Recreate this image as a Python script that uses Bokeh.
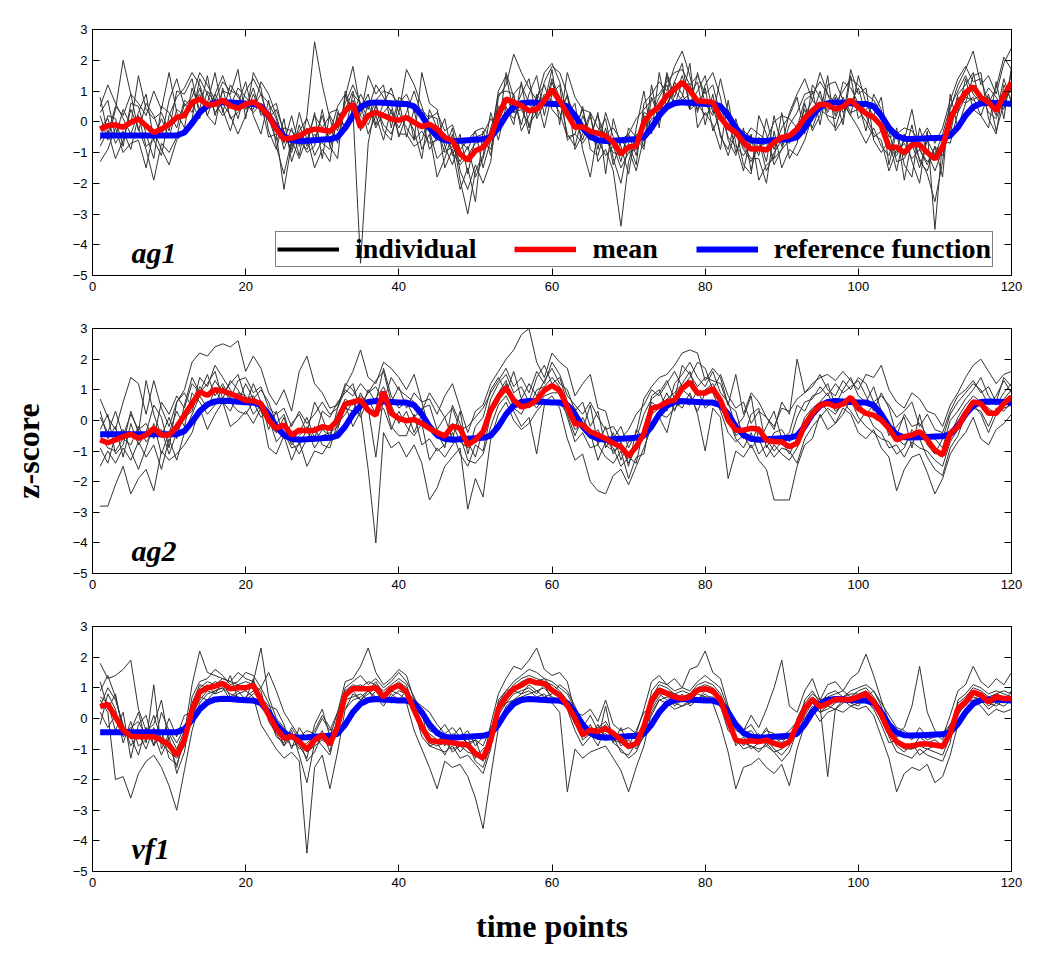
from bokeh.plotting import figure
from bokeh.models import Range1d, FixedTicker, LinearAxis, Legend, LegendItem, Label
from bokeh.layouts import column
from bokeh.embed import file_html
from bokeh.resources import INLINE

# ---------------- data ----------------
time_points = list(range(1, 121))
x_ticks = [0, 20, 40, 60, 80, 100, 120]
y_ticks = [-5, -4, -3, -2, -1, 0, 1, 2, 3]
panel_names = ["ag1", "ag2", "vf1"]

reference_function = [
    -0.45, -0.45, -0.45, -0.45, -0.45, -0.45, -0.45, -0.45, -0.45, -0.45,
    -0.45, -0.35, -0.05, 0.30, 0.52, 0.62, 0.64, 0.63, 0.61, 0.59,
    0.58, 0.50, 0.20, -0.20, -0.48, -0.60, -0.63, -0.62, -0.60, -0.58,
    -0.57, -0.50, -0.20, 0.20, 0.48, 0.60, 0.63, 0.62, 0.60, 0.58,
    0.58, 0.50, 0.20, -0.20, -0.48, -0.60, -0.63, -0.62, -0.60, -0.58,
    -0.57, -0.50, -0.20, 0.20, 0.48, 0.60, 0.63, 0.62, 0.60, 0.58,
    0.58, 0.50, 0.20, -0.20, -0.48, -0.60, -0.63, -0.62, -0.60, -0.58,
    -0.57, -0.50, -0.20, 0.20, 0.48, 0.60, 0.63, 0.62, 0.60, 0.58,
    0.58, 0.50, 0.20, -0.20, -0.48, -0.60, -0.63, -0.62, -0.60, -0.58,
    -0.57, -0.50, -0.20, 0.20, 0.48, 0.60, 0.63, 0.62, 0.60, 0.58,
    0.58, 0.50, 0.20, -0.20, -0.46, -0.55, -0.56, -0.55, -0.54, -0.53,
    -0.52, -0.45, -0.18, 0.20, 0.48, 0.60, 0.62, 0.61, 0.60, 0.58,
]

ag1_mean = [
    -0.24, -0.13, -0.10, -0.18, -0.02, 0.09, -0.13, -0.35, -0.24, -0.08,
    0.14, 0.20, 0.63, 0.74, 0.55, 0.57, 0.70, 0.52, 0.44, 0.57,
    0.65, 0.47, 0.20, -0.24, -0.56, -0.53, -0.46, -0.31, -0.24, -0.27,
    -0.31, -0.08, 0.36, 0.57, -0.18, 0.20, 0.30, 0.20, 0.09, 0.05,
    0.14, -0.02, -0.16, -0.08, -0.24, -0.51, -0.62, -1.05, -1.25, -0.94,
    -0.83, -0.51, 0.20, 0.74, 0.63, 0.52, 0.36, 0.41, 0.68, 1.05,
    0.68, 0.25, -0.18, -0.16, -0.31, -0.38, -0.46, -0.67, -1.05, -0.83,
    -0.78, -0.02, 0.30, 0.49, 0.85, 1.06, 1.28, 1.01, 0.68, 0.66,
    0.63, 0.14, -0.18, -0.35, -0.67, -0.89, -0.87, -0.92, -0.67, -0.51,
    -0.46, -0.24, 0.12, 0.36, 0.57, 0.55, 0.41, 0.49, 0.70, 0.47,
    0.27, 0.14, -0.13, -0.83, -0.83, -1.00, -0.75, -0.75, -1.00, -1.21,
    -0.83, 0.09, 0.57, 0.95, 1.14, 0.79, 0.63, 0.36, 0.85, 1.28,
]

ag2_mean = [
    -0.64, -0.73, -0.64, -0.53, -0.45, -0.59, -0.48, -0.26, -0.48, -0.48,
    -0.21, 0.17, 0.55, 0.93, 0.82, 1.00, 0.96, 0.87, 0.77, 0.66,
    0.64, 0.55, 0.01, -0.26, -0.15, -0.48, -0.32, -0.34, -0.32, -0.21,
    -0.26, 0.01, 0.53, 0.60, 0.66, 0.33, 0.17, 0.93, 0.23, 0.06,
    -0.01, 0.03, -0.10, -0.26, -0.40, -0.51, -0.19, -0.26, -0.80, -0.64,
    -0.37, 0.33, 0.77, 1.07, 0.66, 0.44, 0.50, 0.66, 0.98, 1.14,
    0.98, 0.44, -0.10, -0.15, -0.37, -0.48, -0.59, -0.75, -0.86, -1.16,
    -0.86, -0.43, 0.39, 0.46, 0.60, 0.66, 1.04, 1.25, 0.89, 0.89,
    1.04, 0.66, 0.01, -0.32, -0.32, -0.26, -0.29, -0.64, -0.70, -0.70,
    -0.86, -0.75, -0.15, 0.23, 0.50, 0.55, 0.46, 0.53, 0.75, 0.39,
    0.23, 0.17, 0.01, -0.26, -0.64, -0.53, -0.48, -0.37, -0.64, -0.97,
    -1.13, -0.43, -0.21, 0.23, 0.60, 0.55, 0.23, 0.23, 0.55, 0.77,
]

vf1_mean = [
    0.38, 0.46, 0.05, -0.38, -0.58, -0.60, -0.60, -0.60, -0.71, -0.87,
    -1.20, -0.71, 0.27, 0.86, 1.00, 1.05, 1.14, 0.97, 1.00, 1.00,
    1.08, 0.59, 0.11, -0.33, -0.65, -0.58, -0.76, -1.01, -0.71, -0.54,
    -0.84, -0.27, 0.76, 0.97, 0.97, 0.97, 1.00, 0.70, 0.97, 1.08,
    0.86, 0.27, -0.27, -0.71, -0.76, -0.76, -0.80, -0.84, -0.87, -1.14,
    -1.30, -0.71, 0.32, 0.70, 0.97, 1.08, 1.24, 1.16, 1.14, 0.92,
    0.76, 0.43, 0.00, -0.54, -0.38, -0.43, -0.33, -0.49, -0.69, -0.92,
    -0.82, -0.27, 0.59, 0.92, 0.81, 0.70, 0.65, 0.70, 0.92, 0.97,
    0.90, 0.59, -0.06, -0.71, -0.76, -0.73, -0.76, -0.71, -0.82, -0.90,
    -0.76, -0.22, 0.32, 0.62, 0.38, 0.49, 0.62, 0.62, 0.62, 0.70,
    0.81, 0.54, 0.11, -0.43, -0.76, -0.90, -0.90, -0.84, -0.84, -0.87,
    -0.92, -0.49, 0.32, 0.54, 0.86, 0.76, 0.54, 0.70, 0.65, 0.65,
]

# individual subjects, panel ag1
ag1_s01 = [0.5, 1.2, 0.6, 0.1, -0.4, 0.3, 0.9, -0.6, -1.1, 0.2, 0.8, 1.1, 1.6, 1.2, 0.4, 0.9, 1.5, 0.8, 0.1, 1.0,
           1.4, 0.9, 0.6, 0.1, -0.9, -0.2, -1.1, 0.2, 2.6, 1.2, 0.1, -0.7, 0.8, 1.8, 0.4, 0.9, -0.1, 0.6, 1.1, 0.3,
           1.7, 1.2, 0.5, -0.3, -1.2, -0.9, -0.2, -1.6, -2.2, -1.4, -2.0, -1.3, 0.8, 1.2, 2.2, 1.6, 1.1, 0.7, 1.6, 1.9,
           1.3, 0.2, 0.6, -0.9, -1.8, -0.3, 0.1, -1.2, -2.0, -0.7, -1.4, 0.6, 0.9, 1.3, 1.0, 1.8, 2.3, 1.5, 0.3, 1.2,
           1.6, 0.8, -0.6, -1.1, -0.2, -1.6, -0.5, -1.3, 0.2, -0.8, 0.3, 0.9, 1.4, 0.7, 1.6, 0.9, 0.2, 1.3, 1.1, 0.6,
           -0.3, 0.9, 0.4, -1.4, -0.3, -1.9, -0.6, -1.2, -1.7, -2.6, -1.3, 0.4, 1.2, 1.7, 2.3, 1.2, 1.5, 0.9, 1.9, 2.4]
ag1_s02 = [-0.8, -0.3, -1.2, -0.6, 0.4, -0.2, -0.9, -1.9, -0.7, -1.0, -0.5, 0.6, 0.3, 1.1, 0.2, 0.9, 0.4, -0.3, 0.6, 1.3,
           0.2, -0.4, 0.7, -0.8, -1.7, -0.6, -1.2, -0.5, -1.5, -0.9, -1.3, 0.3, -0.2, 0.4, -4.6, -0.7, 0.6, -0.3, -0.6, 0.7,
           -0.5, 0.4, -0.9, -0.4, -1.8, -1.2, -0.4, -1.9, -3.0, -1.6, -1.1, 0.3, -0.6, 0.5, -0.1, 1.3, -0.2, 0.8, 1.2, 0.4,
           0.1, 0.9, -0.9, -0.4, 0.3, -1.3, -0.9, -1.6, -3.4, -1.3, -0.4, -0.8, 1.2, -0.2, 1.5, 0.6, 0.8, 1.9, -0.2, 0.3,
           -0.1, -0.9, 0.7, -0.7, -1.6, -0.4, -1.9, -1.4, -1.2, 0.3, -1.2, -0.7, 0.6, -0.3, 0.2, 1.5, -0.3, 0.1, 1.7, 0.9,
           1.1, -0.6, -1.0, -0.6, -1.6, -0.4, -1.3, -2.0, -0.3, -3.5, -0.6, -0.7, 0.3, 1.4, 0.4, 0.2, -0.2, 1.3, 0.1, 1.8]
ag1_s03 = [0.2, -0.6, 0.4, 2.0, 0.9, 0.6, 0.2, 1.0, 0.4, 1.6, 0.3, -0.2, 1.1, 0.4, 1.5, 0.2, 1.0, 0.9, 1.7, 0.1,
           1.6, 1.1, -0.3, -0.9, 0.1, -1.3, -0.5, -1.0, -0.8, 0.4, -0.8, -1.2, 1.0, 0.3, 0.2, 1.5, 0.9, 1.2, -0.2, 0.8,
           0.6, -0.6, 1.6, 0.6, 0.4, -0.8, -1.4, -0.6, -0.9, -0.3, -1.5, -0.6, 1.0, 1.5, 0.3, 0.9, 1.4, 0.1, 0.6, 1.7,
           -0.1, 1.6, 0.8, 0.4, -0.6, 0.3, -1.7, 0.1, -0.8, -1.7, -0.2, 1.0, -0.4, 1.6, 0.4, 1.3, 1.9, 0.4, 1.6, 0.6,
           0.2, 1.4, 0.3, -0.2, -1.4, -1.7, 0.2, -0.4, -1.4, -0.9, -0.1, 0.3, 0.9, 1.0, -0.1, 1.2, 1.3, 0.7, 0.2, 1.5,
           0.6, 0.2, 0.8, -0.9, -1.1, -0.6, 0.4, -0.9, -1.4, -0.8, -1.8, 0.9, -0.2, 0.6, 1.5, 1.6, 0.1, -0.4, 1.2, 0.7]
ag1_s04 = [-1.3, -0.9, -0.2, -1.0, -0.7, -0.6, -1.5, -0.3, -0.9, -1.4, -0.6, -0.3, 0.1, 1.4, 0.9, 0.3, 0.6, 0.2, -0.4, 0.2,
           0.9, 0.3, 0.1, 0.4, -0.3, -1.0, -0.1, -0.8, 0.3, -1.2, 0.3, 0.4, -0.3, 0.9, 0.6, -0.4, 0.2, -0.6, 0.4, -0.4,
           -0.4, -0.8, -0.6, 0.2, 0.1, -1.5, -0.9, -2.2, -1.5, -2.6, -0.3, -1.1, 0.3, 0.1, 0.9, -0.3, 0.2, 0.8, -0.2, 0.9,
           1.2, -0.6, -0.4, 0.5, -0.9, -1.1, -0.2, -1.4, -0.6, -0.9, -1.6, -0.5, 0.1, 0.2, 0.6, 1.0, 0.7, 0.9, 1.3, -0.1,
           0.9, -0.5, -0.9, 0.1, -0.8, -1.2, -1.2, -2.0, -0.3, -1.5, -0.9, -1.1, -0.6, 0.2, 1.0, 0.1, -0.2, 0.6, 0.2, -0.2,
           -0.7, -0.2, -0.8, -1.1, -0.2, -1.4, -1.8, -0.2, -1.0, -1.6, -0.9, -0.4, 0.8, 0.6, 0.8, 0.2, 0.9, -0.3, 0.6, 1.1]
ag1_s05 = [0.3, 0.7, -0.5, 0.4, -0.1, 1.5, 0.4, 0.1, 0.3, -0.3, 1.0, 0.9, 1.4, 0.2, 0.6, 1.6, 0.3, 1.2, 0.8, 0.5,
           0.4, 1.3, 0.9, 0.2, -0.7, 0.2, -0.8, -0.2, -1.1, -0.6, -0.4, 0.5, 0.9, 0.2, 0.9, 0.4, 1.2, 0.8, 0.3, -0.2,
           0.3, 1.0, 0.2, -0.9, -0.5, 0.1, -1.1, -0.4, -1.7, -0.5, -0.4, 0.1, -0.3, 1.6, 0.8, -0.1, 0.9, 1.5, 0.2, 1.3,
           0.5, 0.8, 0.2, -0.6, 0.2, -0.9, 0.3, -0.5, -1.3, -0.2, -0.5, -0.9, 0.8, 0.1, 1.6, 0.8, 1.5, 0.6, 1.0, 1.5,
           0.3, 0.4, 0.2, -1.0, -0.3, -0.5, -1.1, 0.1, -0.9, -0.2, 0.2, 0.8, -0.4, 1.2, 0.8, 0.3, 0.8, -0.1, 1.5, 0.1,
           0.4, 0.6, 0.1, -0.3, -1.3, -1.2, -0.7, -1.5, -0.6, -1.1, -0.4, 0.5, 1.0, 1.5, 0.9, 0.6, 1.1, 0.8, 0.4, 1.6]
ag1_s06 = [-0.6, 0.2, 0.1, -0.8, 0.6, 0.5, -0.4, -1.2, 0.5, 0.3, -0.2, 0.7, 0.5, 0.9, 0.2, -0.1, 1.1, 0.1, 0.3, 0.6,
           0.3, 0.6, -0.5, -0.4, -2.2, -0.7, -0.3, 0.1, -0.6, 0.2, -0.7, 0.2, 0.4, 1.0, -0.3, 0.6, -0.2, 0.3, 0.6, -0.5,
           0.2, -0.3, -1.2, 0.4, -0.2, -1.0, -0.8, -1.3, -0.8, -1.8, -1.2, -0.2, 0.5, 0.4, 0.1, 0.6, -0.4, 0.9, 0.5, 1.4,
           0.8, -0.4, -0.8, 0.2, -0.4, 0.2, -0.6, -1.0, -1.1, -0.4, -1.1, 0.3, 0.2, 0.8, 1.2, 0.5, 1.3, 1.2, 0.4, 1.1,
           -0.3, 0.3, -0.5, -0.8, -1.1, -0.7, -0.6, -1.6, -1.0, -0.6, -0.7, -0.3, 0.4, -0.2, 0.5, 0.4, 0.9, 0.3, 0.6, 1.1,
           0.2, -0.4, -0.6, -1.6, -0.9, -1.1, -0.1, -1.3, -1.6, -0.8, -1.1, -0.2, 0.9, 1.2, 1.6, 0.5, 0.8, 0.2, 1.4, 0.6]
ag1_s07 = [0.8, -0.4, 0.5, 0.2, 0.9, -0.3, 0.6, 0.2, -0.5, 0.7, 1.4, 0.5, 0.8, 1.6, 1.2, 0.7, 1.3, 1.0, 0.9, 0.4,
           1.1, 0.2, 0.4, 0.6, -0.4, -0.9, 0.3, -0.6, 0.2, -0.2, 0.2, -0.3, 0.6, 1.2, 0.6, 0.1, 0.7, 1.0, 0.9, 0.6,
           0.9, 0.3, 0.4, 0.1, 0.3, -0.3, -0.1, -0.9, -0.6, -0.3, -0.2, -0.5, 0.9, 1.0, 0.9, 1.2, 0.6, 0.2, 1.3, 1.8,
           1.6, 0.9, -0.2, 0.4, 0.3, -0.2, -0.4, -0.2, -0.6, -0.4, 0.1, 0.4, 0.7, 0.9, 1.3, 1.6, 1.7, 1.2, 1.5, 0.9,
           1.2, 0.2, 0.4, -0.4, -0.6, -0.2, -0.4, -0.6, 0.0, 0.2, 0.1, -0.2, 0.7, 0.9, 1.3, 0.9, 0.6, 1.0, 1.4, 1.2,
           0.9, 0.7, 0.3, -0.5, -0.4, -0.2, -0.3, -0.6, -0.2, -0.7, -0.2, 0.7, 1.4, 1.8, 1.3, 1.4, 0.6, 1.1, 2.1, 1.7]
ag1_s08 = [-0.2, 0.1, -0.7, -0.3, -0.9, 0.2, -0.8, -0.6, 0.1, -0.5, 0.4, 0.2, 0.6, 0.1, 1.0, 0.6, 0.2, 0.5, 1.1, 0.8,
           0.5, 0.9, 0.1, -0.6, -0.2, -0.3, -0.6, -0.9, -0.4, -0.7, -0.9, 0.1, 0.2, 0.7, 0.2, -0.1, 0.5, -0.1, -0.4, 0.3,
           -0.2, -0.6, -0.3, -0.7, -0.6, -0.4, -1.0, -1.4, -1.1, -0.7, -0.6, -0.9, 0.4, 0.8, 0.3, 0.4, -0.1, 0.3, 0.9, 0.7,
           0.3, -0.5, -0.4, -0.7, -0.3, -0.6, -1.1, -0.8, -1.5, -1.0, -0.9, 0.2, -0.2, 0.4, 0.5, 1.3, 0.9, 0.4, 0.6, 0.2,
           0.5, -0.4, -1.1, -0.3, -0.9, -1.3, -0.8, -0.7, -1.2, -0.9, -0.6, -0.1, 0.2, 0.7, 0.4, 0.2, 0.1, 0.8, 0.3, 0.4,
           0.0, -0.5, -0.3, -0.8, -1.0, -0.7, -1.2, -0.9, -1.3, -1.0, -0.7, 0.3, 0.3, 0.8, 0.7, 0.9, 0.3, 0.1, 0.8, 1.0]

# individual subjects, panel ag2
ag2_s01 = [0.7, 0.1, -0.3, 0.6, 1.4, 1.2, 0.2, 1.3, 0.4, -0.2, 0.6, 1.0, 1.9, 2.2, 2.1, 2.4, 2.5, 2.4, 2.6, 1.6,
           2.1, 1.7, 0.9, 0.5, 1.0, 0.3, 1.6, 2.1, 1.2, 0.9, 0.4, 0.5, 1.1, 1.6, 2.3, 1.4, 1.2, 1.9, 1.7, 1.4,
           1.0, 1.5, 0.6, 0.7, 0.2, 0.8, 1.2, 0.4, -0.4, 0.3, 0.5, 1.2, 1.6, 2.0, 2.3, 2.8, 3.0, 1.9, 1.4, 2.2,
           1.9, 1.7, 0.8, 1.2, 1.5, 0.4, 0.3, -0.6, -0.2, -0.9, -0.4, 0.7, 1.1, 1.4, 1.5, 1.8, 2.2, 2.3, 2.2, 1.3,
           1.7, 1.4, 0.5, 1.5, 0.2, 0.9, 0.6, 0.1, -0.3, 0.6, 0.2, 2.0, 0.9, 1.2, 1.4, 1.5, 1.3, 1.6, 1.3, 1.0,
           1.5, 1.4, 1.8, 1.0, 0.6, 0.4, 0.9, 0.7, 0.3, 0.2, -0.2, 0.5, 0.9, 1.4, 1.8, 2.0, 1.6, 1.2, 1.5, 1.6]
ag2_s02 = [-2.8, -2.8, -2.1, -1.5, -2.4, -1.9, -1.6, -2.3, -1.0, -1.3, -1.1, -0.8, -0.4, 0.4, -0.3, 0.2, 0.6, -0.2, 0.0, 0.3,
           -0.1, 0.4, -0.9, -1.1, -0.5, -1.3, -0.7, -1.5, -1.0, -1.1, -0.7, -0.3, 0.5, -0.2, 0.3, -1.6, -4.0, -0.4, -0.9, -0.7,
           -1.2, -0.8, -1.4, -2.6, -2.2, -1.5, -1.2, -0.9, -2.9, -1.9, -2.5, -0.6, 0.2, 0.6, 0.0, -0.3, -0.1, 0.3, 0.6, 0.8,
           0.4, -0.6, -1.3, -1.1, -2.0, -2.3, -2.4, -1.8, -1.6, -2.1, -1.5, -0.9, -0.2, 0.1, -0.4, 0.6, 0.4, 0.9, 0.2, -1.0,
           0.4, 0.1, -1.9, -1.0, -1.2, -0.8, -1.3, -1.6, -2.6, -2.6, -2.6, -1.5, -0.8, -0.6, 0.2, -0.3, -0.1, 0.4, 0.2, -0.4,
           -0.6, -0.3, -0.9, -1.2, -2.3, -1.6, -1.2, -1.1, -1.7, -2.4, -1.9, -1.1, -0.7, -0.4, 0.1, -0.6, -0.8, -0.3, -0.1, 0.2]
ag2_s03 = [-0.3, 0.2, -1.1, -0.8, 0.3, -0.4, 1.3, 0.2, -0.5, 0.1, -0.6, 0.5, 1.4, 0.9, 1.2, 1.6, 0.7, 1.3, 1.0, 0.5,
           1.2, 0.6, -0.3, 0.3, -0.6, -0.1, 0.2, -0.4, 0.6, 0.1, -0.6, 0.4, 1.2, 1.0, 0.5, 0.9, 1.3, 1.6, 0.6, 1.1,
           0.4, 0.9, 0.6, -0.3, -0.4, -0.9, 0.5, -0.1, -0.7, -1.2, -0.3, 0.7, 1.2, 1.5, 0.9, 1.1, 0.6, 1.4, 1.8, 1.2,
           1.4, 0.6, 0.4, -0.3, 0.5, -0.8, -0.2, -1.1, -0.7, -1.5, -0.3, -0.6, 0.8, 1.0, 0.3, 1.2, 1.5, 1.9, 1.4, 1.1,
           1.6, 0.9, 0.6, -0.2, 0.1, 0.8, -0.7, -0.2, 0.3, -0.6, -0.4, 0.5, 0.3, 0.8, 0.9, 1.2, 0.5, 1.0, 1.4, 0.8,
           0.6, 1.1, 0.3, -0.5, -0.2, 0.1, -0.9, 0.2, -0.8, -1.1, -0.6, 0.2, 0.6, 0.9, 1.2, 1.0, 0.5, 0.8, 1.3, 0.9]
ag2_s04 = [-1.5, -1.0, -1.4, -0.9, -1.3, -0.7, -1.2, -0.8, -1.6, -0.6, -1.3, -0.4, 0.2, 0.8, 0.4, 1.0, 0.6, 0.3, 0.9, 0.8,
           0.2, 0.5, 0.1, -0.7, -0.4, -0.9, -0.8, -0.3, -0.9, -0.5, -0.4, -0.2, 0.4, 0.3, 0.9, 0.4, -1.2, 0.8, -0.2, -0.5,
           -0.5, 0.2, -0.8, -0.6, -1.0, -0.8, -0.4, -1.1, -1.5, -0.8, -1.0, 0.2, 0.6, 1.2, 0.4, 0.2, 0.7, 0.4, 0.8, 0.9,
           0.9, 0.1, -0.7, -0.4, -0.9, -0.8, -1.2, -1.4, -1.0, -1.9, -1.2, -1.1, 0.2, 0.4, 0.9, 0.3, 1.0, 0.8, 0.3, 0.9,
           0.9, 0.3, -0.4, -0.7, -0.5, -0.9, -0.6, -1.2, -0.8, -1.1, -1.3, -0.9, -0.3, 0.2, 0.6, 0.3, -0.1, 0.2, 0.7, 0.1,
           -0.2, -0.4, -0.6, -0.7, -1.1, -0.9, -0.3, -0.6, -1.2, -1.6, -1.8, -0.9, -0.5, 0.2, 0.4, 0.3, -0.2, 0.4, 0.3, 0.6]
ag2_s05 = [0.3, -0.6, -0.2, -1.2, -0.1, -0.8, -0.4, 0.5, 0.1, -0.9, 0.6, 0.9, 0.4, 1.4, 1.1, 1.8, 1.4, 1.0, 0.6, 1.2,
           0.7, 1.0, 0.6, -0.1, 0.2, -0.6, -0.4, 0.1, -0.6, 0.3, 0.1, 0.6, 0.9, 1.2, 0.3, 1.0, 0.6, 1.7, 0.8, 0.4,
           0.6, 0.1, 0.4, 0.5, -0.3, 0.1, -0.6, 0.3, -1.1, -0.2, 0.1, 1.0, 1.4, 0.9, 1.6, 0.7, 1.2, 0.8, 1.3, 1.7,
           1.2, 1.0, 0.3, 0.6, -0.2, 0.3, -0.9, -0.4, -1.3, -0.7, -0.6, 0.2, 0.7, 0.9, 1.3, 0.7, 1.8, 1.5, 1.1, 1.4,
           1.3, 1.2, 0.5, 0.3, -0.6, 0.2, 0.4, -0.9, -0.4, -0.3, -0.7, 0.1, 0.6, 0.7, 1.1, 0.8, 1.2, 0.9, 1.1, 1.3,
           0.8, 0.3, 0.9, 0.4, -0.5, 0.2, -0.2, -0.1, -0.5, -0.6, -0.9, 0.0, 0.3, 0.7, 1.0, 1.4, 0.8, 0.5, 0.9, 1.2]
ag2_s06 = [-0.9, -1.4, -0.5, -0.3, -1.0, -1.6, -0.9, -0.1, -1.1, -0.4, 0.3, -0.2, 0.9, 0.6, 0.2, 0.5, 1.1, 0.6, 0.3, 0.2,
           0.6, 0.1, 0.3, -0.4, 0.1, -0.7, -1.1, -0.6, -0.2, -0.8, -0.9, -0.1, 0.2, 0.6, 0.1, 0.7, 0.2, 0.4, -0.3, 0.3,
           -0.2, -0.5, -0.1, -1.3, -0.9, -1.2, -0.8, -0.5, -1.3, -1.4, -1.1, -0.2, 0.5, 0.8, 0.3, -0.2, 0.1, -1.1, 0.5, 0.6,
           0.6, 0.2, -0.5, 0.1, -0.4, -1.3, -0.7, -0.9, -1.5, -1.2, -1.4, -0.2, -0.1, 0.2, 0.1, 0.4, 0.6, 0.5, 1.0, 0.4,
           0.6, 0.5, 0.1, -0.6, -0.9, -0.4, -1.1, -0.8, -1.2, -0.9, -1.0, -1.4, -0.6, -0.2, 0.1, 0.4, 0.2, 0.6, 0.3, -0.1,
           0.3, -0.2, -0.4, -0.9, -0.8, -1.2, -0.7, -0.9, -1.0, -1.3, -1.5, -0.7, -0.3, 0.1, 0.5, 0.2, -0.4, 0.2, 0.4, 0.5]
ag2_s07 = [-0.5, -0.9, -1.0, -0.6, -0.8, -0.2, -0.7, -0.4, -0.3, -1.1, -0.4, 0.1, 0.3, 1.1, 0.8, 1.3, 0.9, 1.2, 1.5, 0.7,
           0.8, 0.3, -0.1, -0.4, -0.2, -0.8, -0.5, -0.2, -0.7, -0.3, -0.5, 0.2, 0.7, 0.5, 0.8, 0.6, 0.7, 1.1, 0.5, -0.1,
           0.3, -0.4, 0.2, -0.2, -0.6, -0.4, -0.1, -0.7, -0.9, -0.6, -0.6, 0.4, 0.9, 1.3, 0.5, 0.7, 0.4, 1.0, 1.1, 1.4,
           1.1, 0.3, -0.3, -0.1, -0.6, -0.3, -0.8, -1.0, -0.8, -1.4, -0.9, -0.3, 0.6, 0.4, 0.7, 0.9, 1.2, 1.6, 0.8, 1.0,
           1.2, 0.7, 0.2, -0.5, -0.3, -0.7, -0.2, -0.6, -1.0, -0.7, -1.1, -0.6, 0.1, 0.4, 0.6, 0.9, 0.3, 0.5, 0.8, 0.6,
           0.2, 0.5, 0.1, -0.3, -0.6, -0.8, -0.5, -0.4, -0.7, -1.0, -1.2, -0.5, 0.1, 0.5, 0.8, 0.6, 0.4, 0.2, 0.7, 1.0]
ag2_s08 = [0.1, -0.4, 0.3, -0.5, 0.2, -0.3, -0.1, -0.6, 0.6, 0.2, 0.8, 0.4, 1.2, 0.9, 1.5, 0.8, 1.2, 0.7, 1.3, 1.4,
           0.9, 1.1, 0.4, 0.2, 0.4, -0.2, 0.3, -0.1, 0.2, 0.6, 0.2, 0.4, 1.0, 0.8, 1.2, 0.9, 1.1, 0.6, 1.4, 1.0,
           0.8, 0.6, 0.3, 0.9, 0.5, 0.1, 0.4, -0.3, -0.2, 0.1, 0.4, 0.9, 1.3, 1.7, 1.1, 1.4, 0.9, 1.6, 1.2, 1.9,
           1.5, 0.8, 0.5, 0.2, 0.6, 0.1, -0.3, -0.2, -0.6, -0.3, 0.2, 0.5, 1.0, 0.8, 1.2, 1.6, 1.1, 1.4, 1.9, 1.7,
           1.0, 1.5, 0.8, 0.4, 0.6, -0.1, 0.3, 0.1, -0.2, 0.4, 0.3, 0.7, 0.9, 1.1, 1.5, 1.0, 0.8, 1.3, 1.0, 1.4,
           1.2, 0.6, 0.8, 0.5, 0.1, 0.3, 0.6, -0.2, 0.2, -0.3, -0.4, 0.3, 0.8, 1.0, 1.3, 0.9, 1.1, 0.6, 1.4, 1.1]

# individual subjects, panel vf1
vf1_s01 = [1.8, 1.3, 1.4, 1.6, 1.9, 0.3, -0.4, -0.2, 0.6, -0.8, -1.6, -0.5, 1.1, 2.2, 1.5, 1.4, 1.3, 1.2, 1.5, 1.3,
           1.2, 2.3, 0.7, 0.0, -0.3, -0.6, -0.9, -1.3, -0.2, 0.3, -0.6, 0.2, 1.2, 1.3, 1.7, 2.3, 1.5, 1.1, 1.3, 1.6,
           1.4, 0.6, 0.1, -0.4, -0.5, -0.2, -0.6, -0.3, -0.9, -0.7, -1.4, -0.2, 0.8, 1.3, 1.7, 1.6, 1.9, 2.3, 1.6, 1.4,
           1.5, 1.2, 0.2, 0.1, 0.3, -0.1, 0.6, -0.2, -0.4, -0.3, -0.5, 0.3, 1.2, 1.4, 1.1, 1.3, 1.0, 1.6, 1.7, 2.2,
           1.5, 1.3, 0.4, -0.2, -0.4, 0.1, -0.3, 0.3, 1.0, 1.9, 0.4, 0.2, 0.9, 1.3, 0.6, 1.1, 1.2, 0.9, 1.3, 1.5,
           2.1, 1.4, 0.6, -0.1, -0.5, -0.3, 0.4, 1.7, 0.2, -0.4, -0.6, 0.1, 0.9, 1.1, 1.7, 1.2, 1.0, 1.3, 1.1, 1.5]
vf1_s02 = [0.6, 0.2, -2.0, -1.9, -2.6, -1.8, -1.4, -1.2, -1.6, -2.2, -3.0, -1.7, -0.4, 0.5, 0.8, 0.9, 1.0, 0.6, 0.8, 0.9,
           0.7, -0.2, -0.6, -1.0, -1.3, -1.1, -1.4, -4.4, -1.6, -1.2, -2.3, -1.1, 0.3, 0.8, 0.6, 0.9, 0.7, 0.4, 0.8, 0.6,
           0.5, -0.4, -1.0, -1.6, -2.3, -1.4, -1.6, -1.5, -1.9, -2.6, -3.6, -1.9, -0.3, 0.4, 0.6, 0.8, 0.9, 0.7, 0.8, 0.5,
           0.2, -2.4, -1.0, -1.3, -1.1, -1.0, -0.9, -1.3, -1.7, -2.4, -1.6, -0.9, 0.2, 0.6, 0.5, 0.3, 0.4, 0.5, 0.6, 0.7,
           0.5, -0.2, -1.1, -2.3, -1.6, -1.5, -1.3, -1.6, -1.8, -1.5, -2.2, -1.0, -0.2, 0.3, -0.1, 0.2, 0.3, 0.2, 0.4, 0.3,
           0.4, 0.1, -0.6, -1.3, -2.4, -1.8, -1.6, -1.7, -1.5, -2.1, -1.9, -1.2, -0.2, 0.2, 0.6, 0.4, 0.1, 0.3, 0.2, 0.3]
vf1_s03 = [0.9, 1.4, 0.7, -0.3, -0.6, -1.2, -0.3, -0.9, -0.4, -1.3, -1.5, -0.8, 0.7, 1.2, 1.3, 1.6, 1.4, 1.1, 1.2, 1.5,
           1.4, 1.0, 0.5, -0.2, -0.9, -0.4, -1.2, -2.1, -0.8, -0.4, -1.1, 0.1, 1.0, 1.2, 1.4, 1.1, 1.3, 1.0, 1.2, 1.5,
           1.2, 0.7, 0.2, -0.9, -1.0, -1.1, -0.9, -1.3, -1.2, -1.5, -1.8, -1.0, 0.6, 0.9, 1.2, 1.4, 1.6, 1.5, 1.3, 1.2,
           1.0, 0.8, 0.3, -0.6, -0.2, -0.7, 0.4, -0.8, -1.0, -1.3, -1.1, -0.5, 0.9, 1.2, 1.1, 0.9, 1.0, 0.9, 1.2, 1.4,
           1.2, 1.0, 0.3, -0.7, -1.0, -0.9, -1.1, -0.8, -1.1, -1.4, -1.1, -0.4, 0.6, 0.9, 0.5, 0.8, 0.9, 0.7, 0.9, 1.0,
           1.1, 0.9, 0.4, -0.6, -1.1, -1.2, -1.3, -1.0, -1.2, -1.3, -1.4, -0.8, 0.6, 0.8, 1.1, 1.0, 0.8, 0.9, 0.8, 0.7]
vf1_s04 = [0.2, -0.3, 0.1, -0.6, -0.4, 0.2, -0.8, 1.1, -1.0, -0.5, -1.0, -0.4, 0.1, 0.6, 0.9, 0.8, 1.2, 0.7, 0.9, 0.6,
           1.3, 0.4, 0.1, -0.6, -0.8, -0.3, -0.7, -1.4, -1.1, -0.5, -0.6, -0.5, 0.6, 0.7, 0.8, 0.6, 0.9, 0.5, 0.7, 0.9,
           0.8, 0.2, -0.3, -0.5, -0.7, -0.6, -1.1, -0.9, -0.6, -1.3, -1.0, -0.8, 0.2, 0.6, 0.9, 0.8, 1.1, 0.9, 1.0, 0.7,
           0.6, 0.3, -0.4, -0.9, -0.6, -0.2, -0.7, -0.4, -0.9, -0.7, -1.0, -0.6, 0.4, 0.8, 0.6, 0.5, 0.4, 0.6, 0.8, 0.7,
           0.7, 0.4, -0.4, -0.6, -0.9, -0.6, -0.5, -0.9, -0.6, -0.8, -0.5, -0.6, 0.1, 0.5, 0.2, 0.3, 0.5, 0.6, 0.4, 0.5,
           0.6, 0.3, -0.2, -0.8, -0.7, -0.9, -1.0, -0.6, -0.8, -0.7, -0.9, -0.5, 0.2, 0.4, 0.7, 0.6, 0.3, 0.5, 0.4, 0.6]
vf1_s05 = [-0.2, 0.8, 0.3, -0.8, -0.1, -0.9, -0.7, -0.5, -1.2, -0.6, -1.8, -1.1, 0.4, 1.0, 1.2, 1.1, 1.3, 1.2, 1.1, 1.2,
           1.1, 0.9, -0.1, -0.5, -0.9, -0.6, -1.0, -0.8, -0.6, -0.9, -1.2, -0.2, 0.9, 1.1, 1.0, 1.2, 1.1, 0.9, 1.1, 1.3,
           1.1, 0.3, -0.6, -0.9, -0.8, -1.2, -0.7, -1.1, -0.8, -1.4, -1.6, -0.9, 0.4, 0.8, 1.1, 1.3, 1.4, 1.3, 1.2, 1.1,
           0.9, 0.6, 0.1, -0.7, -0.5, -0.9, -0.3, -0.6, -1.1, -1.2, -0.8, -0.1, 0.7, 1.1, 1.0, 0.8, 0.9, 0.8, 1.1, 1.2,
           1.1, 0.8, 0.2, -0.9, -0.6, -1.0, -0.8, -0.7, -1.0, -1.2, -0.9, 0.0, 0.5, 0.8, 0.6, 0.7, 0.8, 0.9, 0.7, 0.9,
           1.0, 0.7, 0.3, -0.4, -0.9, -1.1, -0.8, -1.2, -1.0, -1.1, -1.2, -0.6, 0.5, 0.7, 1.0, 0.9, 0.7, 0.8, 0.9, 0.8]
vf1_s06 = [0.7, 0.5, -0.4, 0.2, -1.3, -0.2, 0.1, -0.9, 0.2, -0.4, -0.8, -0.3, 0.2, 0.9, 1.1, 0.8, 0.9, 1.4, 0.6, 0.7,
           0.9, 0.7, 0.4, 0.3, -0.2, -1.0, -0.3, -0.7, -0.4, 0.1, -0.3, -0.6, 0.7, 0.9, 0.6, 0.8, 1.0, 0.6, 0.9, 0.8,
           0.6, 0.5, 0.2, -0.2, -0.4, -0.9, -0.5, -0.6, -0.8, -0.7, -0.9, -0.3, 0.1, 0.5, 0.8, 0.9, 1.0, 0.8, 1.1, 0.6,
           0.5, 0.4, -0.2, -0.3, 0.1, -0.4, -0.2, -0.8, -0.3, -0.9, -0.4, 0.2, 0.3, 0.7, 0.9, 0.4, 0.6, 0.5, 0.6, 0.8,
           0.6, 0.5, 0.1, -0.4, -0.5, -0.4, -0.7, -0.3, -0.9, -0.6, -0.4, -0.1, 0.2, 0.6, 0.4, -1.9, 0.3, 0.5, 0.7, 0.6,
           0.8, 0.5, 0.2, -0.2, -0.6, -0.5, -0.7, -0.3, -0.6, -0.5, -0.7, -0.2, 0.3, 0.5, 0.8, 0.7, 0.4, 0.6, 0.5, 0.9]
vf1_s07 = [0.4, 1.0, 0.6, -0.2, -0.9, -0.5, -1.0, -0.3, -0.8, -1.1, -1.3, -0.9, 0.5, 1.1, 1.0, 1.2, 1.1, 1.0, 1.1, 0.9,
           1.2, 0.6, 0.2, -0.3, -0.6, -0.9, -0.8, -1.1, -0.9, -0.7, -0.9, -0.4, 0.8, 1.0, 1.1, 0.9, 1.2, 0.8, 1.0, 1.2,
           1.0, 0.4, -0.4, -0.8, -0.9, -0.8, -1.0, -0.9, -1.1, -1.2, -1.3, -0.6, 0.5, 0.9, 1.0, 1.2, 1.3, 1.2, 1.3, 1.0,
           0.8, 0.4, -0.1, -0.6, -0.4, -0.6, -0.5, -0.7, -0.8, -1.0, -0.9, -0.4, 0.6, 1.0, 0.9, 0.8, 0.7, 0.8, 1.0, 1.1,
           1.0, 0.7, 0.0, -0.8, -0.8, -0.9, -1.0, -0.9, -1.1, -1.0, -0.8, -0.3, 0.4, 0.7, 0.5, 0.6, 0.7, 0.7, 0.8, 0.8,
           0.9, 0.6, 0.2, -0.5, -0.8, -1.0, -1.0, -0.9, -1.0, -0.9, -1.0, -0.5, 0.4, 0.6, 0.9, 0.8, 0.6, 0.8, 0.7, 0.6]
vf1_s08 = [1.2, 0.3, 0.8, -0.5, -0.3, -0.1, -0.6, 0.1, -0.7, 0.0, -0.6, 0.1, 0.2, 0.7, 0.6, 0.9, 1.0, 0.8, 0.7, 0.6,
           0.8, 1.0, 1.5, 0.9, 0.2, -0.2, -0.6, -0.4, -0.5, 0.0, -0.4, 0.2, 0.3, 0.6, 0.7, 0.9, 0.6, 0.8, 0.5, 0.6,
           0.9, 0.6, 0.4, 0.2, -0.2, -0.5, -0.3, -0.6, -0.4, -0.9, -0.6, -0.4, 0.3, 0.5, 0.6, 0.7, 0.8, 0.9, 0.7, 0.8,
           1.1, 0.9, 0.4, -0.2, -0.4, -0.3, -0.1, -0.5, -0.6, -0.5, -0.7, -0.3, 0.1, 0.6, 0.7, 0.5, 0.8, 0.4, 0.6, 0.9,
           0.8, 0.6, 0.4, -0.3, -0.4, -0.2, -0.6, -0.4, -0.5, -0.7, -0.6, -0.2, 0.0, 0.4, 0.2, 0.4, 0.3, 0.6, 0.5, 0.4,
           0.7, 0.9, 0.5, 0.1, -0.3, -0.4, -0.6, -0.5, -0.7, -0.6, -0.5, -0.2, 0.1, 0.5, 0.6, 0.8, 0.5, 0.4, 0.6, 0.7]

ag1_subjects = [ag1_s01, ag1_s02, ag1_s03, ag1_s04, ag1_s05, ag1_s06, ag1_s07, ag1_s08]
ag2_subjects = [ag2_s01, ag2_s02, ag2_s03, ag2_s04, ag2_s05, ag2_s06, ag2_s07, ag2_s08]
vf1_subjects = [vf1_s01, vf1_s02, vf1_s03, vf1_s04, vf1_s05, vf1_s06, vf1_s07, vf1_s08]

# ---------------- styling ----------------
SERIF = "Liberation Serif"
SANS = "Liberation Sans"
FRAME_W = 919
NAN = float("nan")


def make_panel(name, mean_values, subjects, frame_h, top, bottom,
               ylabel=None, xlabel=None, with_legend=False):
    p = figure(frame_width=FRAME_W, frame_height=frame_h,
               x_range=Range1d(0, 120), y_range=Range1d(-5, 3),
               output_backend="svg", toolbar_location=None,
               min_border_left=92, min_border_right=18,
               min_border_top=top, min_border_bottom=bottom)
    p.xgrid.visible = False
    p.ygrid.visible = False
    p.outline_line_color = "black"
    p.outline_line_width = 1
    p.background_fill_color = "white"
    p.border_fill_color = "white"

    xa = p.below[0]
    ya = p.left[0]
    xa.ticker = FixedTicker(ticks=x_ticks)
    ya.ticker = FixedTicker(ticks=y_ticks)
    for ax in (xa, ya):
        ax.major_tick_in = 7
        ax.major_tick_out = 0
        ax.minor_tick_line_color = None
        ax.axis_line_color = "black"
        ax.major_label_text_font = SANS
        ax.major_label_text_font_size = "13px"
        ax.major_label_text_color = "black"
    xa.major_label_standoff = 6
    ya.major_label_standoff = 5

    top_ax = LinearAxis(ticker=FixedTicker(ticks=x_ticks))
    right_ax = LinearAxis(ticker=FixedTicker(ticks=y_ticks))
    for ax in (top_ax, right_ax):
        ax.major_tick_in = 7
        ax.major_tick_out = 0
        ax.minor_tick_line_color = None
        ax.axis_line_color = "black"
        ax.major_label_text_font_size = "1px"
        ax.major_label_text_alpha = 0
        ax.major_label_standoff = 0
    p.add_layout(top_ax, "above")
    p.add_layout(right_ax, "right")

    if ylabel:
        ya.axis_label = ylabel
        ya.axis_label_text_font = SERIF
        ya.axis_label_text_font_style = "bold"
        ya.axis_label_text_font_size = "32px"
        ya.axis_label_text_color = "black"
        ya.axis_label_standoff = 24
    if xlabel:
        xa.axis_label = xlabel
        xa.axis_label_text_font = SERIF
        xa.axis_label_text_font_style = "bold"
        xa.axis_label_text_font_size = "32px"
        xa.axis_label_text_color = "black"
        xa.axis_label_standoff = 18

    p.multi_line(xs=[time_points] * len(subjects), ys=subjects,
                 line_color="#333333", line_width=1)
    ref_r = p.line(time_points, reference_function, line_color="#0000ff", line_width=6)
    mean_r = p.line(time_points, mean_values, line_color="#ff0000", line_width=5.5)

    p.add_layout(Label(x=5.1, y=-4.25, text=name, text_font=SERIF,
                       text_font_style="bold italic", text_font_size="30px",
                       text_color="black", text_baseline="alphabetic"))

    if with_legend:
        key_r = p.line(x=[NAN], y=[NAN], line_color="black", line_width=4)
        legend = Legend(items=[
            LegendItem(label="individual", renderers=[key_r]),
            LegendItem(label="mean", renderers=[mean_r]),
            LegendItem(label="reference function", renderers=[ref_r]),
        ], orientation="horizontal", location=(183, 8))
        legend.label_text_font = SERIF
        legend.label_text_font_style = "bold"
        legend.label_text_font_size = "28px"
        legend.label_text_color = "black"
        legend.glyph_width = 62
        legend.glyph_height = 20
        legend.label_standoff = 16
        legend.spacing = 38
        legend.padding = 1
        legend.margin = 0
        legend.border_line_color = "black"
        legend.border_line_width = 1
        legend.background_fill_alpha = 0
        p.add_layout(legend)
    return p


p1 = make_panel(panel_names[0], ag1_mean, ag1_subjects, 246, 29, 31, with_legend=True)
p2 = make_panel(panel_names[1], ag2_mean, ag2_subjects, 245, 22, 31, ylabel="z-score")
p3 = make_panel(panel_names[2], vf1_mean, vf1_subjects, 245, 22, 76, xlabel="time points")

layout = column(p1, p2, p3, spacing=0)
open("out.html", "w").write(file_html(layout, INLINE))
